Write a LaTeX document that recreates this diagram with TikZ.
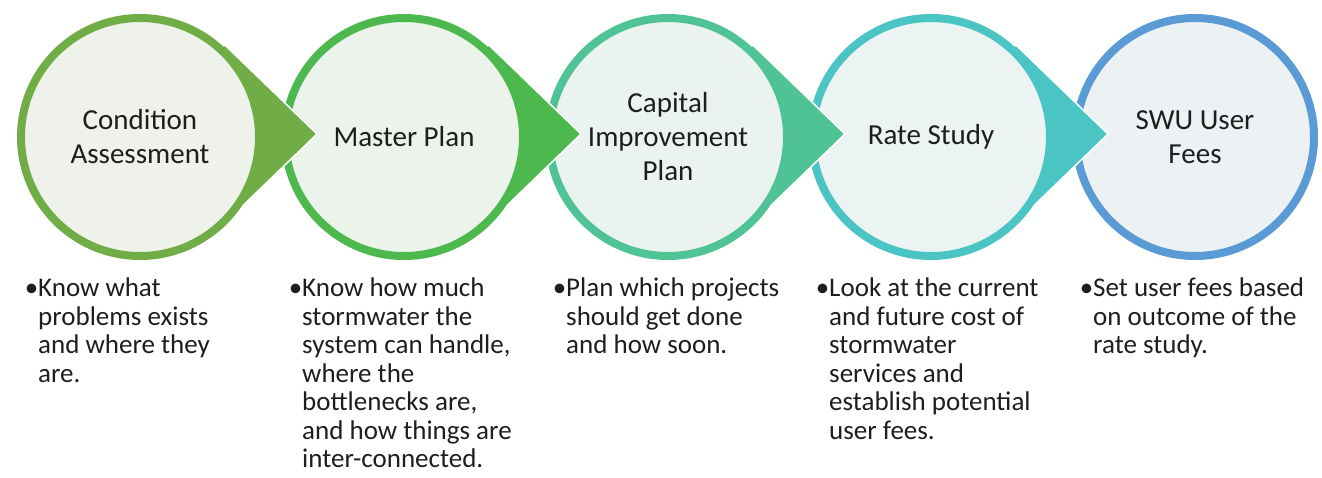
\documentclass[tikz,border=0pt]{standalone}
\usepackage{fontspec}
\setmainfont{Carlito}
\usepackage{tikz}
\definecolor{stageA}{HTML}{70AD47}
\definecolor{stageB}{HTML}{4DB84E}
\definecolor{stageC}{HTML}{50C396}
\definecolor{stageD}{HTML}{4BC4C4}
\definecolor{stageE}{HTML}{5B9BD5}
\definecolor{ink}{HTML}{1E1E1E}

\begin{document}
\begin{tikzpicture}[x=1pt,y=1pt,
    stage/.style={circle,draw=#1,line width=8pt,fill=#1!7!white!97!black,minimum size=238pt,inner sep=0pt,align=center,text=ink,font=\fontsize{29}{34}\selectfont},
    pointer/.style={fill=#1},
    note/.style={anchor=north west,align=left,inner sep=0pt,text=ink,font=\fontsize{27}{28.5}\selectfont}]
    \useasboundingbox (0,0) rectangle (1322,-477);
    % drawn right to left so each pointer lies over the next stage
    \foreach \i/\x/\col/\txt in {5/1195/stageE/{SWU User\\Fees},4/931/stageD/{Rate Study},3/668/stageC/{Capital\\Improvement\\Plan},2/404/stageB/{Master Plan},1/140/stageA/{Condition\\Assessment}} {
      \coordinate (c\i) at (\x,-134);
      \ifnum\i<5
        \fill[pointer=\col] ([xshift=177pt]c\i) -- ([shift={(46:123)}]c\i) -- (c\i) -- ([shift={(-46:123)}]c\i) -- cycle;
        \draw[white,line width=1.5pt] ([shift={(46:123)}]c\i) -- ([xshift=177pt]c\i) -- ([shift={(-46:123)}]c\i);
      \fi
      \node[stage=\col] (st\i) at ([yshift=-3pt]c\i) {\txt};
    }
    \foreach \i/\x/\txt in {1/38/{Know what\\problems exists\\and where they\\are.},
                           2/302/{Know how much\\stormwater the\\system can handle,\\where the\\bottlenecks are,\\and how things are\\inter-connected.},
                           3/566/{Plan which projects\\should get done\\and how soon.},
                           4/829/{Look at the current\\and future cost of\\stormwater\\services and\\establish potential\\user fees.},
                           5/1093/{Set user fees based\\on outcome of the\\rate study.}}
      \node[note] (note\i) at (\x,-278) {\llap{\textbullet}\txt};
\end{tikzpicture}
\end{document}
